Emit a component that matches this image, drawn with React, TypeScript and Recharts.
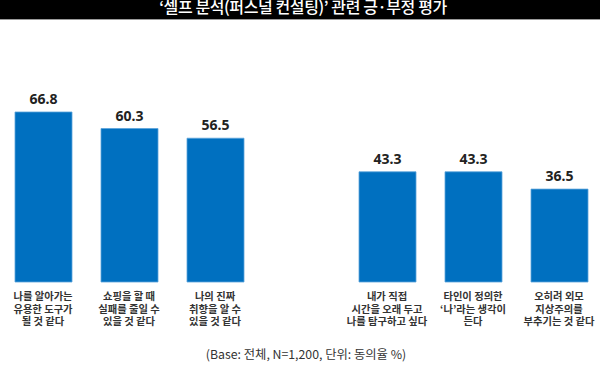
import React from 'react';
import { BarChart, Bar, XAxis, YAxis, LabelList } from 'recharts';

const TITLE = '‘셀프 분석(퍼스널 컨설팅)’ 관련 긍·부정 평가';
const NOTE = '(Base: 전체, N=1,200, 단위: 동의율 %)';

const categories = [
  '나를 알아가는\n유용한 도구가\n될 것 같다',
  '쇼핑을 할 때\n실패를 줄일 수\n있을 것 같다',
  '나의 진짜\n취향을 알 수\n있을 것 같다',
  '',
  '내가 직접\n시간을 오래 두고\n나를 탐구하고 싶다',
  '타인이 정의한\n‘나’라는 생각이\n든다',
  '오히려 외모\n지상주의를\n부추기는 것 같다',
];
const values: (number | null)[] = [66.8, 60.3, 56.5, null, 43.3, 43.3, 36.5];

const data = categories.map((c, i) => ({ name: c, key: 'c' + i, value: values[i] }));

const KR = '"Noto Sans CJK KR", "Noto Sans", sans-serif';

const Tick = (props: any) => {
  const { x, y, payload } = props;
  const idx = payload.index;
  const lines = (categories[idx] || '').split('\n').filter((s) => s.length);
  if (!lines.length) return <g />;
  return (
    <text
      x={x}
      y={y + 10}
      textAnchor="middle"
      fontSize={10.3}
      fontWeight={700}
      fill="#333"
      fontFamily={KR}
    >
      {lines.map((l, i) => (
        <tspan key={i} x={x} dy={i === 0 ? 0 : 12.6}>
          {l}
        </tspan>
      ))}
    </text>
  );
};

export default function App() {
  return (
    <div
      style={{
        position: 'absolute',
        left: 0,
        top: 0,
        width: 600,
        height: 370,
        overflow: 'hidden',
        background: '#fff',
      }}
    >
      <div
        style={{
          position: 'absolute',
          left: 0,
          top: 0,
          width: 600,
          height: 18.5,
          background: '#000',
          borderBottom: '1.5px solid #9a9a9a',
          overflow: 'hidden',
        }}
      >
        <div
          style={{
            position: 'absolute',
            left: 0,
            width: 606,
            top: -6,
            textAlign: 'center',
            color: '#fff',
            fontFamily: KR,
            fontWeight: 500,
            fontSize: 16,
            lineHeight: '24px',
            letterSpacing: -0.4,
          }}
        >
          {TITLE}
        </div>
      </div>
      <div style={{ position: 'absolute', left: 0, top: 0 }}>
        <BarChart
          width={602}
          height={370}
          data={data}
          margin={{ top: 27.5, right: 0, bottom: 0, left: 0 }}
        >
          <YAxis hide domain={[0, 100]} />
          <XAxis
            dataKey="key"
            height={88}
            axisLine={false}
            tickLine={false}
            interval={0}
            tick={<Tick />}
          />
          <Bar
            dataKey="value"
            fill="#0070C0"
            stroke="#5BA3DB"
            strokeWidth={0.8}
            barSize={57}
            isAnimationActive={false}
          >
            <LabelList
              dataKey="value"
              position="top"
              offset={8}
              fill="#222"
              fontSize={14}
              fontWeight={700}
              fontFamily='"Noto Sans", sans-serif'
              formatter={(v: any) => (v == null ? '' : Number(v).toFixed(1))}
            />
          </Bar>
        </BarChart>
      </div>
      <div
        style={{
          position: 'absolute',
          left: 0,
          width: 612,
          top: 346,
          textAlign: 'center',
          fontFamily: KR,
          fontSize: 12.3,
          color: '#333',
          lineHeight: '17px',
        }}
      >
        {NOTE}
      </div>
    </div>
  );
}
